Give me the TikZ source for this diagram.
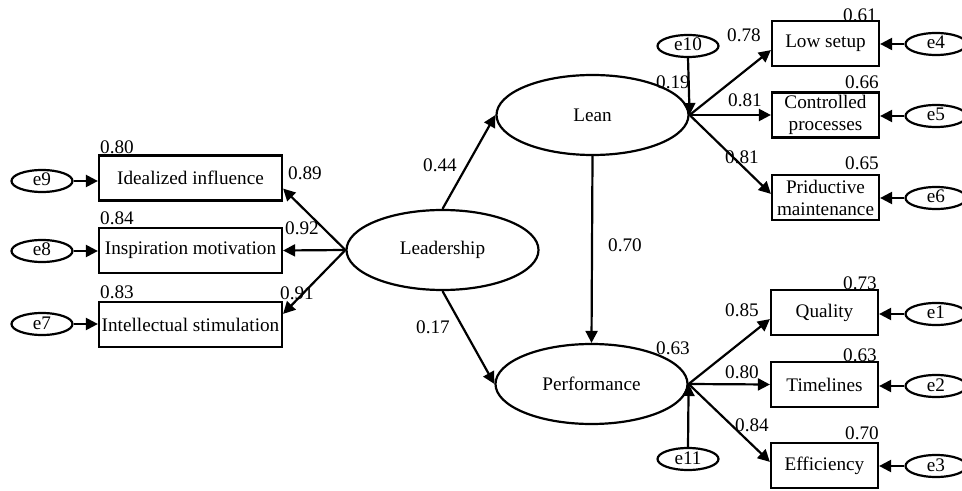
\documentclass[tikz,border=0pt]{standalone}
\usepackage{fontspec}
\setmainfont{Liberation Serif}
\usetikzlibrary{positioning,arrows.meta,shapes.geometric}

\begin{document}
\begin{tikzpicture}[x=0.5pt,y=-0.5pt,font=\fontsize{9.6}{11}\selectfont]
    \tikzset{
        item/.style = {rectangle, draw, line width=1.1pt, text centered, align=center, minimum width=53.5pt, minimum height=22.5pt, inner sep=1pt},
        wideitem/.style = {item, minimum width=91.5pt},
        factor/.style = {ellipse, draw, line width=1.1pt, minimum width=96pt, minimum height=40pt},
        err/.style = {ellipse, draw, line width=1.1pt, minimum width=30.5pt, minimum height=11pt, inner sep=0pt, text height=5pt, text depth=0pt},
        link/.style = {line width=1.1pt, -{Triangle[length=6pt,width=6pt]}},
        coef/.style = {inner sep=0pt},
    }
    \useasboundingbox (0,0) rectangle (962,491);

    % leadership side
    \node [factor] (lead) at (442.5,250) {Leadership};
    \node [wideitem] (idea) at (190.5,178) {Idealized influence};
    \node [wideitem] (insp) at (190.5,250.5) {Inspiration motivation};
    \node [wideitem] (intel) at (190.5,324.5) {Intellectual stimulation};
    \node [err] (e9) at (42,181) {e9};
    \node [err] (e8) at (42,251) {e8};
    \node [err] (e7) at (42,324) {e7};

    % lean side
    \node [factor] (lean) at (592.5,115) {Lean};
    \node [item] (low) at (825.5,43.5) {Low setup};
    \node [item] (ctrl) at (825.5,115) {Controlled\\processes};
    \node [item] (prid) at (825.5,197.5) {Priductive\\maintenance};
    \node [err] (e10) at (688,46) {e10};
    \node [err] (e4) at (936,44) {e4};
    \node [err] (e5) at (936,116) {e5};
    \node [err] (e6) at (936,198) {e6};

    % performance side
    \node [factor] (perf) at (591.5,384) {Performance};
    \node [item] (qual) at (824.5,312.5) {Quality};
    \node [item] (time) at (824.5,384.5) {Timelines};
    \node [item] (effi) at (824.5,465.5) {Efficiency};
    \node [err] (e11) at (688,459) {e11};
    \node [err] (e1) at (936,314) {e1};
    \node [err] (e2) at (936,386) {e2};
    \node [err] (e3) at (936,466) {e3};

    % loadings
    \draw[link] (lead.west) -- ([yshift=6.5pt]idea.south east);
    \draw[link] (lead.west) -- (insp.east);
    \draw[link] (lead.west) -- ([yshift=-6.5pt]intel.north east);
    \draw[link] (e9) -- (idea.west |- e9);
    \draw[link] (e8) -- (insp.west |- e8);
    \draw[link] (e7) -- (intel.west |- e7);

    \draw[link] (lead.north) -- (lean.west);
    \draw[link] (lead.south) -- (perf.west);
    \draw[link] (lean.south) -- (perf.north);

    \draw[link] (lean.east) -- ([yshift=8.5pt]low.south west);
    \draw[link] (lean.east) -- (ctrl.west);
    \draw[link] (lean.east) -- ([yshift=-10pt]prid.north west);
    \draw[link] (e10.south) -- (lean.east);
    \draw[link] (e4) -- (low.east |- e4);
    \draw[link] (e5) -- (ctrl.east |- e5);
    \draw[link] (e6) -- (prid.east |- e6);

    \draw[link] (perf.east) -- ([yshift=8.5pt]qual.south west);
    \draw[link] (perf.east) -- (time.west);
    \draw[link] (perf.east) -- ([yshift=-10pt]effi.north west);
    \draw[link] (e11.north) -- (perf.east);
    \draw[link] (e1) -- (qual.east |- e1);
    \draw[link] (e2) -- (time.east |- e2);
    \draw[link] (e3) -- (effi.east |- e3);

    % estimates
    \node [coef] (r80) at (117,147) {0.80};
    \node [coef] (r84) at (117,218) {0.84};
    \node [coef] (r83) at (117,292) {0.83};
    \node [coef] (l89) at (305,173) {0.89};
    \node [coef] (l92) at (302,228) {0.92};
    \node [coef] (l91) at (297,293) {0.91};
    \node [coef] (b44) at (440,165) {0.44};
    \node [coef] (b17) at (433,327) {0.17};
    \node [coef] (b70) at (625,245) {0.70};
    \node [coef] (r19) at (673,82) {0.19};
    \node [coef] (l78) at (744,35) {0.78};
    \node [coef] (l81a) at (745,100) {0.81};
    \node [coef] (l81b) at (742,157) {0.81};
    \node [coef] (r61) at (860,15) {0.61};
    \node [coef] (r66) at (862,82) {0.66};
    \node [coef] (r65) at (862,163) {0.65};
    \node [coef] (r63p) at (673,348) {0.63};
    \node [coef] (l85) at (742,310) {0.85};
    \node [coef] (l80) at (742,372) {0.80};
    \node [coef] (l84) at (752,425) {0.84};
    \node [coef] (r73) at (860,283) {0.73};
    \node [coef] (r63) at (860,355) {0.63};
    \node [coef] (r70) at (862,433) {0.70};
\end{tikzpicture}
\end{document}
